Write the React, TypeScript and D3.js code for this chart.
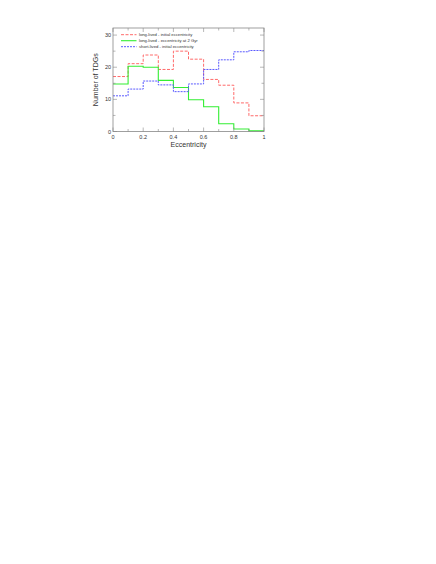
import React, { useRef, useEffect } from "react";
import * as d3 from "d3";

// bin edges 0..1 in steps of 0.1
const binEdges = [0, 0.1, 0.2, 0.3, 0.4, 0.5, 0.6, 0.7, 0.8, 0.9, 1.0];

const longInitial = [17.1, 21.1, 23.8, 19.3, 25.0, 22.5, 16.2, 14.4, 8.9, 4.9];
const longAt2Gyr = [14.8, 20.3, 20.0, 15.9, 13.7, 9.9, 7.7, 2.4, 0.8, 0.2];
const shortInitial = [11.1, 13.2, 15.7, 14.5, 12.4, 14.8, 19.3, 22.3, 24.8, 25.2];

const xTicks = [0, 0.2, 0.4, 0.6, 0.8, 1];
const yTicks = [0, 10, 20, 30];

const series = [
  { name: "long-lived - initial eccentricity", values: longInitial, color: "#ff6a6a", dash: "3,1.5", width: 1 },
  { name: "long-lived - eccentricity at 2 Gyr", values: longAt2Gyr, color: "#33ee33", dash: null, width: 1.1 },
  { name: "short-lived - initial eccentricity", values: shortInitial, color: "#5a5aff", dash: "2,1", width: 1 },
];

const App = () => {
  const svgRef = useRef<SVGSVGElement>(null);

  useEffect(() => {
    const width = 436;
    const height = 564;
    const left = 113, right = 264, top = 28, bottom = 131.5;

    const svg = d3.select(svgRef.current)
      .attr("width", width)
      .attr("height", height);

    svg.selectAll("*").remove();

    const x = d3.scaleLinear().domain([0, 1]).range([left, right]);
    const y = d3.scaleLinear().domain([0, 32.2]).range([bottom, top]);

    const font = "Liberation Sans, Arial, sans-serif";
    const axisColor = "#888";

    // step lines
    series.forEach((s) => {
      const pts: [number, number][] = [];
      s.values.forEach((v, i) => {
        pts.push([binEdges[i], v]);
        pts.push([binEdges[i + 1], v]);
      });
      svg.append("path")
        .datum(pts)
        .attr("fill", "none")
        .attr("stroke", s.color)
        .attr("stroke-width", s.width)
        .attr("stroke-dasharray", s.dash)
        .attr("d", d3.line<[number, number]>().x(d => x(d[0])).y(d => y(d[1])));
    });

    // frame
    svg.append("rect")
      .attr("x", left).attr("y", top)
      .attr("width", right - left).attr("height", bottom - top)
      .attr("fill", "none")
      .attr("stroke", axisColor)
      .attr("stroke-width", 0.8);

    // x ticks (bottom & top, inward)
    const xMinor = d3.range(0, 1.0001, 0.1);
    xMinor.forEach((t, i) => {
      const len = i % 2 === 0 ? 4 : 2.5;
      svg.append("line")
        .attr("x1", x(t)).attr("x2", x(t))
        .attr("y1", bottom).attr("y2", bottom - len)
        .attr("stroke", axisColor).attr("stroke-width", 0.6);
      svg.append("line")
        .attr("x1", x(t)).attr("x2", x(t))
        .attr("y1", top).attr("y2", top + len)
        .attr("stroke", axisColor).attr("stroke-width", 0.6);
    });

    // y ticks (left & right, inward)
    d3.range(0, 31, 5).forEach((t, i) => {
      const len = i % 2 === 0 ? 4 : 2.5;
      svg.append("line")
        .attr("x1", left).attr("x2", left + len)
        .attr("y1", y(t)).attr("y2", y(t))
        .attr("stroke", axisColor).attr("stroke-width", 0.6);
      svg.append("line")
        .attr("x1", right).attr("x2", right - len)
        .attr("y1", y(t)).attr("y2", y(t))
        .attr("stroke", axisColor).attr("stroke-width", 0.6);
    });

    // tick labels
    svg.selectAll(".xl")
      .data(xTicks)
      .enter()
      .append("text")
      .attr("x", d => x(d))
      .attr("y", bottom + 7)
      .attr("text-anchor", "middle")
      .attr("font-family", font)
      .attr("font-size", 5.5)
      .attr("fill", "#333")
      .text(d => (d === 0 || d === 1 ? String(d) : d.toFixed(1)));

    svg.selectAll(".yl")
      .data(yTicks)
      .enter()
      .append("text")
      .attr("x", left - 2)
      .attr("y", d => y(d) + 2)
      .attr("text-anchor", "end")
      .attr("font-family", font)
      .attr("font-size", 5.5)
      .attr("fill", "#333")
      .text(d => String(d));

    // axis titles
    svg.append("text")
      .attr("x", (left + right) / 2)
      .attr("y", bottom + 15)
      .attr("text-anchor", "middle")
      .attr("font-family", font)
      .attr("font-size", 7)
      .attr("fill", "#333")
      .text("Eccentricity");

    svg.append("text")
      .attr("transform", `translate(${left - 15},${(top + bottom) / 2}) rotate(-90)`)
      .attr("text-anchor", "middle")
      .attr("font-family", font)
      .attr("font-size", 7)
      .attr("fill", "#333")
      .text("Number of TDGs");

    // legend
    series.forEach((s, i) => {
      const ly = 34.7 + i * 6;
      svg.append("line")
        .attr("x1", 121).attr("x2", 136.5)
        .attr("y1", ly).attr("y2", ly)
        .attr("stroke", s.color)
        .attr("stroke-width", s.width)
        .attr("stroke-dasharray", s.dash);
      svg.append("text")
        .attr("x", 139)
        .attr("y", ly + 1.5)
        .attr("font-family", font)
        .attr("font-size", 4.2)
        .attr("fill", "#333")
        .text(s.name);
    });
  }, []);

  return <svg ref={svgRef} style={{ position: "absolute", left: 0, top: 0 }}></svg>;
};

export default App;
